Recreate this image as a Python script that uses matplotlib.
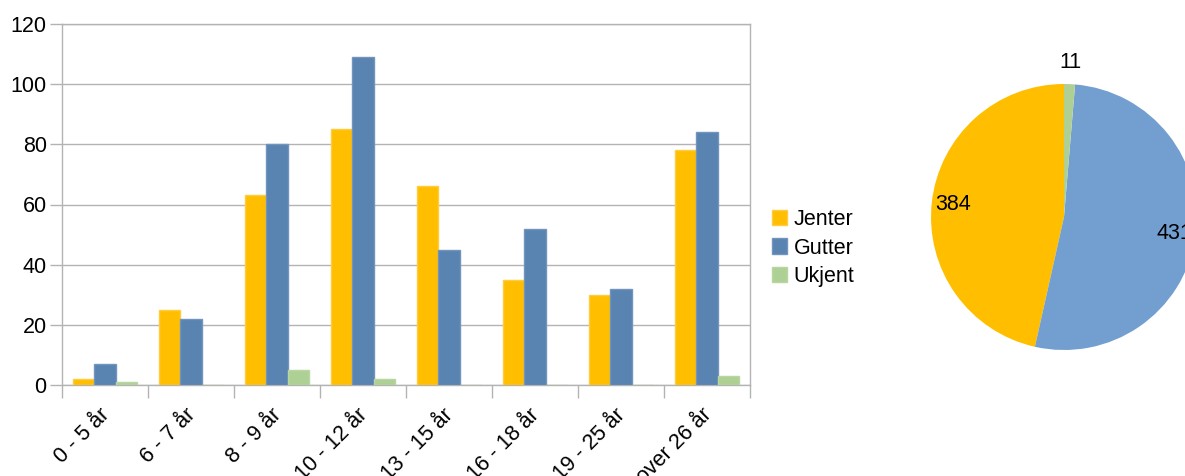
import matplotlib
matplotlib.use("Agg")
import matplotlib.pyplot as plt
import matplotlib.transforms as mtransforms
import numpy as np

plt.rcParams['font.family'] = ['Liberation Sans', 'DejaVu Sans']

categories = ["0 - 5 år", "6 - 7 år", "8 - 9 år", "10 - 12 år", "13 - 15 år",
              "16 - 18 år", "19 - 25 år", "over 26 år"]
jenter = [2, 25, 63, 85, 66, 35, 30, 78]
gutter = [7, 22, 80, 109, 45, 52, 32, 84]
ukjent = [1, 0, 5, 2, 0, 0, 0, 3]
series_names = ["Jenter", "Gutter", "Ukjent"]
pie_values = [sum(jenter), sum(gutter), sum(ukjent)]

bar_colors = ["#FFBF00", "#5983B0", "#AFD095"]
pie_colors = ["#FFBF00", "#729FCF", "#AFD095"]
edge_colors = ["#FFCC40", "#7395BD", "#B8D6A0"]

FS = 15.5
W, H = 1185, 476
fig = plt.figure(figsize=(W / 100, H / 100), dpi=100)

# bar chart
ax = fig.add_axes([62 / W, 1 - 385 / H, (750 - 62) / W, (385 - 24) / H])
x = np.arange(len(categories))
bw = 0.25
grid_c = "#B3B3B3"
for i, vals in enumerate([jenter, gutter, ukjent]):
    ax.bar(x + (i - 1) * bw, vals, width=bw, color=bar_colors[i],
           edgecolor=edge_colors[i], linewidth=1.0, label=series_names[i], zorder=3)

ax.set_xlim(-0.5, len(categories) - 0.5)
ax.set_ylim(0, 120)
ax.set_yticks(np.arange(0, 121, 20))
ax.yaxis.grid(True, color=grid_c, linewidth=1.0, zorder=0)
ax.set_axisbelow(True)
for s in ax.spines.values():
    s.set_color(grid_c)
    s.set_linewidth(1.0)
ax.tick_params(axis='y', length=9, color=grid_c, width=1, labelsize=FS, pad=2)
ax.set_xticks(np.arange(len(categories) + 1) - 0.5, minor=False)
ax.set_xticklabels([])
ax.tick_params(axis='x', which='major', length=9, color=grid_c, width=1)
ax.set_xticks(x, minor=True)
ax.set_xticklabels(categories, minor=True, rotation=45, ha='right', va='top',
                   rotation_mode='anchor', fontsize=FS)
ax.tick_params(axis='x', which='minor', length=0, pad=14)
offset = mtransforms.ScaledTranslation(-6 / 100, 0, fig.dpi_scale_trans)
for lbl in ax.get_xticklabels(minor=True):
    lbl.set_transform(lbl.get_transform() + offset)

handles, labels = ax.get_legend_handles_labels()
leg = fig.legend(handles, labels, loc='center left', bbox_to_anchor=(772 / W, 1 - 248 / H),
                 frameon=False, fontsize=FS, handlelength=0.7, handleheight=0.7,
                 handletextpad=0.3, labelspacing=0.35, borderaxespad=0, borderpad=0)

# pie chart
cx, cy, r = 1064, 217, 133
pax = fig.add_axes([(cx - r) / W, 1 - (cy + r) / H, 2 * r / W, 2 * r / H])
wedges, texts = pax.pie(pie_values, colors=pie_colors, startangle=90, counterclock=True,
                        labels=[str(v) for v in pie_values], labeldistance=0.84,
                        textprops=dict(fontsize=FS, ha='center', va='center'),
                        wedgeprops=dict(linewidth=0))
w = wedges[2]
mid = np.deg2rad((w.theta1 + w.theta2) / 2)
texts[2].set_position((1.16 * np.cos(mid), 1.16 * np.sin(mid)))
pax.set_xlim(-1, 1)
pax.set_ylim(-1, 1)
pax.set_aspect('auto')
for t in texts:
    t.set_clip_on(False)

fig.savefig("out.png", dpi=100)
